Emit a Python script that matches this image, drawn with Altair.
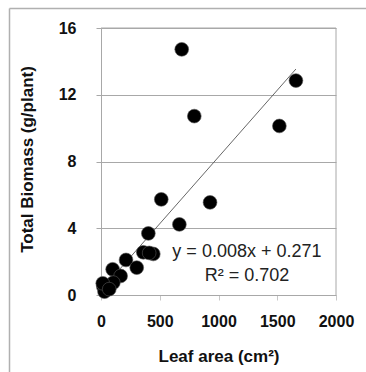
import altair as alt
import pandas as pd

# Leaf area (cm²) and total biomass (g/plant) per plant
leaf_area = [687, 1659, 794, 1518, 513, 928, 667, 403, 360, 445, 410,
             213, 304, 99, 167, 105, 20, 30, 15, 70]
biomass = [14.72, 12.85, 10.72, 10.13, 5.73, 5.55, 4.23, 3.69, 2.56, 2.46, 2.52,
           2.10, 1.64, 1.54, 1.14, 0.74, 0.50, 0.20, 0.70, 0.35]

# Linear fit reported on the chart
slope = 0.008
intercept = 0.271
r_squared = 0.702
fit_x = [min(leaf_area), max(leaf_area)]
fit_y = [slope * v + intercept for v in fit_x]

x_ticks = [0, 250, 500, 750, 1000, 1250, 1500, 1750, 2000]
y_ticks = [0, 2, 4, 6, 8, 10, 12, 14, 16]

points = pd.DataFrame({"area": leaf_area, "biomass": biomass})
fit = pd.DataFrame({"area": fit_x, "biomass": fit_y})
labels = pd.DataFrame({
    "area": [1242, 1242],
    "biomass": [2.58, 1.14],
    "text": [f"y = {slope}x + {intercept}", f"R² = {r_squared}"],
})
one_row = pd.DataFrame({"k": [0]})

FONT = "Liberation Sans"

x_scale = alt.Scale(domain=[0, 2000], nice=False)
y_scale = alt.Scale(domain=[0, 16], nice=False)

x_axis = alt.Axis(
    values=x_ticks,
    format="d",
    labelExpr="datum.value % 500 == 0 ? datum.label : ''",
    grid=False,
    domainColor="#a8a8a8",
    tickColor="#c8c8c8",
    tickSize=5,
    labelFont=FONT, labelFontSize=16, labelFontWeight="bold", labelColor="#111",
    labelPadding=13, labelOverlap=False, labelBound=False, labelFlush=False,
    title="Leaf area (cm²)",
    titleFont=FONT, titleFontSize=17, titleFontWeight="bold", titleColor="#111",
    titleY=61, titleBaseline="middle",
)

y_axis = alt.Axis(
    values=y_ticks,
    format="d",
    labelExpr="datum.value % 4 == 0 ? datum.label : ''",
    grid=True,
    gridColor={"condition": {"test": "datum.value % 4 == 0", "value": "#a8a8a8"},
               "value": "transparent"},
    domainColor="#a8a8a8",
    tickColor={"condition": {"test": "datum.value % 4 == 0", "value": "#a8a8a8"},
               "value": "#d8d8d8"},
    tickSize=5,
    labelFont=FONT, labelFontSize=16, labelFontWeight="bold", labelColor="#111",
    labelPadding=20, labelOverlap=False, labelBound=False, labelFlush=False,
    title="Total Biomass (g/plant)",
    titleFont=FONT, titleFontSize=17, titleFontWeight="bold", titleColor="#111",
    titleX=-74, titleY=131, titleBaseline="middle", titleAlign="center", titleAngle=-90,
)

scatter = alt.Chart(points).mark_circle(
    size=190, color="#000", opacity=1, stroke="#555", strokeWidth=0.6
).encode(
    x=alt.X("area:Q", scale=x_scale, axis=x_axis),
    y=alt.Y("biomass:Q", scale=y_scale, axis=y_axis),
)

trend = alt.Chart(fit).mark_line(color="#555", strokeWidth=0.9).encode(
    x=alt.X("area:Q", scale=x_scale),
    y=alt.Y("biomass:Q", scale=y_scale),
)

annot = alt.Chart(labels).mark_text(
    font=FONT, fontSize=18, color="#222", align="center", baseline="middle"
).encode(
    x=alt.X("area:Q", scale=x_scale),
    y=alt.Y("biomass:Q", scale=y_scale),
    text="text:N",
)

# Plot-area border on the top and right
box_top = alt.Chart(one_row).mark_rule(color="#a8a8a8", strokeWidth=1).encode(
    x=alt.value(0), x2=alt.value(235), y=alt.value(0)
)
box_right = alt.Chart(one_row).mark_rule(color="#a8a8a8", strokeWidth=1).encode(
    x=alt.value(235), y=alt.value(0), y2=alt.value(267)
)

# Outer chart frame (left and top edges)
frame_left = alt.Chart(one_row).mark_rule(color="#b0b0b0", strokeWidth=1.5).encode(
    x=alt.value(-91.5), y=alt.value(-19.5), y2=alt.value(400)
)
frame_top = alt.Chart(one_row).mark_rule(color="#b0b0b0", strokeWidth=1.5).encode(
    x=alt.value(-91.5), x2=alt.value(300), y=alt.value(-19.5)
)

chart = alt.layer(
    trend, scatter, annot, box_top, box_right, frame_left, frame_top
).properties(
    width=235,
    height=267,
    autosize=alt.AutoSizeParams(type="none"),
    padding={"left": 101, "top": 28, "right": 30, "bottom": 77},
    background="white",
).configure_view(
    stroke=None
)

chart.save("out.html", embed_options={"renderer": "svg", "actions": False})
